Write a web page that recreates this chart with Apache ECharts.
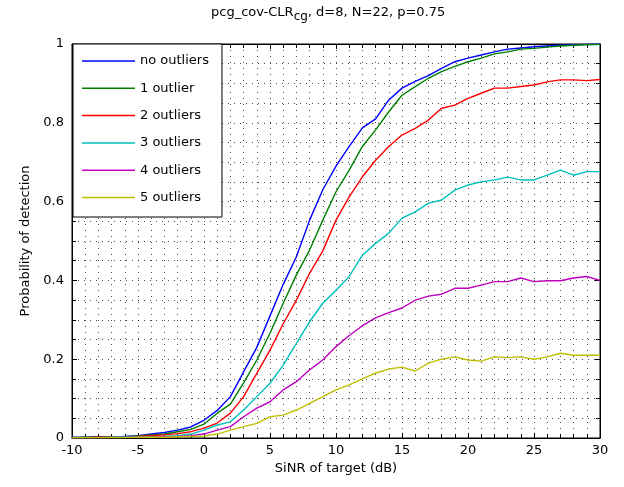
<!DOCTYPE html>
<html>
<head>
<meta charset="utf-8">
<script src="https://cdn.jsdelivr.net/npm/echarts@6/dist/echarts.min.js"></script>
<style>
html,body{margin:0;padding:0;background:#fff;}
#chart{width:624px;height:487px;}
</style>
</head>
<body>
<div id="chart"></div>
<script>
var sinr = [-10,-9,-8,-7,-6,-5,-4,-3,-2,-1,0,1,2,3,4,5,6,7,8,9,10,11,12,13,14,15,16,17,18,19,20,21,22,23,24,25,26,27,28,29,30];
var seriesNames = ['no outliers','1 outlier','2 outliers','3 outliers','4 outliers','5 outliers'];
var noOutliers = [0.002,0.002,0.003,0.003,0.004,0.006,0.010,0.014,0.020,0.028,0.045,0.070,0.105,0.168,0.230,0.310,0.390,0.460,0.553,0.630,0.690,0.740,0.787,0.810,0.858,0.888,0.905,0.920,0.938,0.955,0.964,0.972,0.980,0.987,0.990,0.993,0.995,0.997,0.998,0.999,1.000];
var oneOutlier = [0.001,0.002,0.002,0.003,0.003,0.005,0.008,0.010,0.016,0.022,0.035,0.063,0.086,0.140,0.198,0.266,0.342,0.414,0.477,0.553,0.625,0.680,0.740,0.782,0.828,0.870,0.892,0.913,0.930,0.943,0.955,0.964,0.975,0.980,0.987,0.989,0.992,0.995,0.997,0.998,0.999];
var twoOutliers = [0.001,0.001,0.002,0.002,0.003,0.004,0.006,0.008,0.011,0.016,0.025,0.038,0.063,0.105,0.164,0.223,0.290,0.350,0.418,0.475,0.553,0.612,0.663,0.705,0.740,0.769,0.786,0.807,0.837,0.845,0.862,0.875,0.888,0.888,0.892,0.896,0.904,0.909,0.909,0.907,0.910];
var threeOutliers = [0.001,0.001,0.001,0.002,0.004,0.002,0.003,0.004,0.006,0.010,0.020,0.033,0.041,0.071,0.105,0.139,0.185,0.240,0.295,0.342,0.375,0.410,0.464,0.494,0.520,0.558,0.574,0.596,0.604,0.629,0.642,0.650,0.655,0.662,0.655,0.655,0.667,0.680,0.667,0.676,0.676];
var fourOutliers = [0.001,0.001,0.001,0.001,0.002,0.002,0.002,0.003,0.004,0.006,0.010,0.020,0.029,0.054,0.076,0.092,0.122,0.143,0.173,0.198,0.232,0.260,0.285,0.305,0.318,0.330,0.350,0.360,0.365,0.380,0.380,0.388,0.397,0.397,0.406,0.397,0.399,0.399,0.406,0.410,0.400];
var fiveOutliers = [0.001,0.001,0.001,0.001,0.001,0.002,0.002,0.002,0.003,0.004,0.005,0.010,0.020,0.029,0.037,0.054,0.058,0.071,0.088,0.105,0.122,0.135,0.150,0.165,0.175,0.180,0.170,0.190,0.200,0.206,0.198,0.195,0.206,0.204,0.206,0.200,0.206,0.215,0.210,0.210,0.210];
var xTicks = [-10,-5,0,5,10,15,20,25,30];
var yTicks = [0,0.2,0.4,0.6,0.8,1];
var colors = ['#0000ff','#008000','#ff0000','#00bfbf','#bf00bf','#bfbf00'];

var allValues = [noOutliers, oneOutlier, twoOutliers, threeOutliers, fourOutliers, fiveOutliers];
var FONT = '"DejaVu Sans", Verdana, sans-serif';
var FS = 13;

function pairs(vals){ return sinr.map(function(x,i){ return [x, vals[i]]; }); }

var gridLine = {show:true, lineStyle:{color:'#000', width:1, type:[1,5], opacity:0.7}};

var series = allValues.map(function(v,i){
  return {
    name: seriesNames[i], type:'line', data: pairs(v),
    symbol:'none', smooth:false,
    lineStyle:{color:colors[i], width:1.4},
    itemStyle:{color:colors[i]},
    xAxisIndex:0, yAxisIndex:0, animation:false, z: 3+i
  };
});

var chart = echarts.init(document.getElementById('chart'), null, {renderer:'canvas'});
chart.setOption({
  animation:false,
  backgroundColor:'#fff',
  textStyle:{fontFamily:FONT},
  title:{
    text:'{a|pcg_cov-CLR}{s|cg}{a|, d=8, N=22, p=0.75}',
    left:206, top:1,
    textStyle:{
      rich:{
        a:{fontFamily:FONT, fontSize:FS, color:'#000', fontWeight:'normal', verticalAlign:'top', lineHeight:15},
        s:{fontFamily:FONT, fontSize:12, color:'#000', fontWeight:'normal', verticalAlign:'top', lineHeight:14, padding:[5,0,0,0]}
      }
    }
  },
  grid:{left:72, right:24, top:44, bottom:49, show:true, borderColor:'#000', borderWidth:1, backgroundColor:'#fff'},
  legend:{
    orient:'vertical', left:73, top:44,
    data: seriesNames.map(function(n,i){ return {name:n, icon:'rect', itemStyle:{color:colors[i]}}; }),
    itemWidth:53, itemHeight:1.5, itemGap:14.3,
    padding:[10.5,13,13,9],
    backgroundColor:'#fff', borderColor:'#000', borderWidth:1,
    textStyle:{fontFamily:FONT, fontSize:FS, color:'#000'},
    selectedMode:false
  },
  xAxis:[{
    type:'value', min:-10, max:30, interval:5,
    name:'SiNR of target (dB)', nameLocation:'middle', nameGap:22,
    nameTextStyle:{fontFamily:FONT, fontSize:FS, color:'#000'},
    axisLine:{show:true, onZero:false, lineStyle:{color:'#000', width:1}},
    axisTick:{show:true, inside:true, length:5, lineStyle:{color:'#000'}},
    minorTick:{show:true, splitNumber:5, length:4, lineStyle:{color:'#000'}},
    axisLabel:{fontFamily:FONT, fontSize:FS, color:'#000', margin:6,
      customValues: xTicks},
    splitLine:gridLine,
    minorSplitLine:gridLine
  },{
    type:'value', min:-10, max:30, interval:5, position:'top',
    axisLine:{show:true, onZero:false, lineStyle:{color:'#000', width:1}},
    axisTick:{show:true, inside:true, length:5, lineStyle:{color:'#000'}},
    minorTick:{show:true, splitNumber:5, length:4, lineStyle:{color:'#000'}},
    axisLabel:{show:false}, splitLine:{show:false}
  }],
  yAxis:[{
    type:'value', min:0, max:1, interval:0.2,
    name:'Probability of detection', nameLocation:'middle', nameGap:38,
    nameTextStyle:{fontFamily:FONT, fontSize:FS, color:'#000'},
    axisLine:{show:true, onZero:false, lineStyle:{color:'#000', width:1}},
    axisTick:{show:true, inside:true, length:5, lineStyle:{color:'#000'}},
    minorTick:{show:true, splitNumber:4, length:4, lineStyle:{color:'#000'}},
    axisLabel:{fontFamily:FONT, fontSize:FS, color:'#000', margin:8,
      customValues: yTicks},
    splitLine:gridLine,
    minorSplitLine:gridLine
  },{
    type:'value', min:0, max:1, interval:0.2, position:'right',
    axisLine:{show:true, onZero:false, lineStyle:{color:'#000', width:1}},
    axisTick:{show:true, inside:true, length:5, lineStyle:{color:'#000'}},
    minorTick:{show:true, splitNumber:4, length:4, lineStyle:{color:'#000'}},
    axisLabel:{show:false}, splitLine:{show:false}
  }],
  series: series
});
</script>
</body>
</html>
